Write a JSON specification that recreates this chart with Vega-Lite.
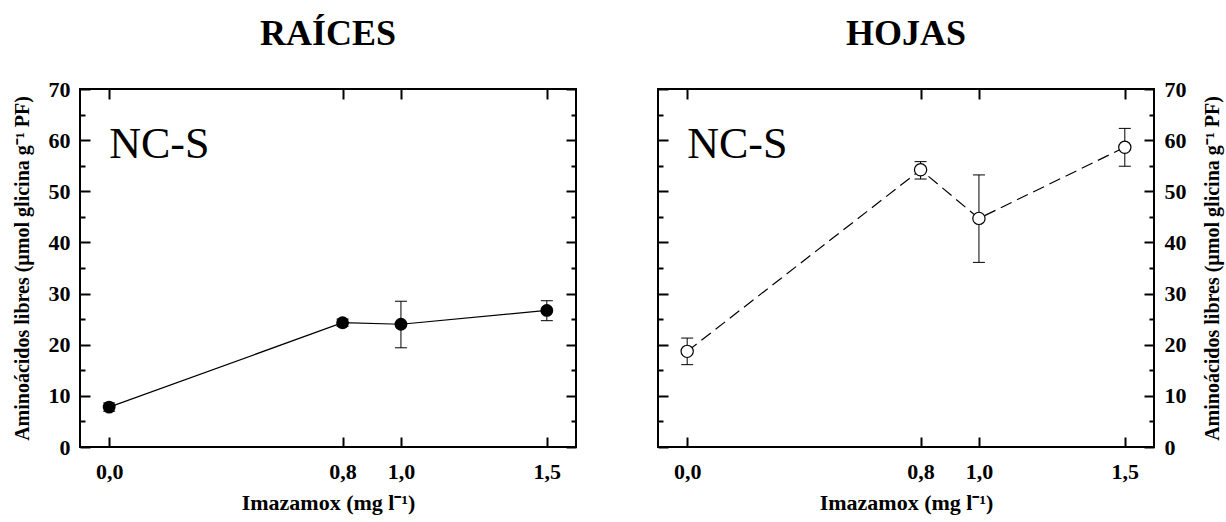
{
  "$schema": "https://vega.github.io/schema/vega-lite/v6.json",
  "background": "white",
  "padding": {"left": 11, "right": 3, "top": 15, "bottom": 5},
  "config": {
    "font": "Liberation Serif",
    "view": {"stroke": "black", "strokeWidth": 2},
    "axis": {
      "domain": false, "grid": false,
      "labelFont": "Liberation Serif", "labelFontSize": 22, "labelFontWeight": "bold", "labelColor": "black",
      "titleFont": "Liberation Serif", "titleFontSize": 20, "titleFontWeight": "bold", "titleColor": "black",
      "tickColor": "black", "tickWidth": 2
    },
    "title": {"font": "Liberation Serif", "fontSize": 36, "fontWeight": "bold", "color": "black", "frame": "group", "anchor": "middle", "offset": 25},
    "concat": {"spacing": 78}
  },
  "datasets": {
    "d": [
      {"panel": "RAÍCES", "dose": 0.0, "mean": 7.8, "lo": 7.0, "hi": 8.6},
      {"panel": "RAÍCES", "dose": 0.8, "mean": 24.3, "lo": 23.6, "hi": 25.0},
      {"panel": "RAÍCES", "dose": 1.0, "mean": 24.0, "lo": 19.4, "hi": 28.5},
      {"panel": "RAÍCES", "dose": 1.5, "mean": 26.7, "lo": 24.7, "hi": 28.6},
      {"panel": "HOJAS", "dose": 0.0, "mean": 18.7, "lo": 16.1, "hi": 21.3},
      {"panel": "HOJAS", "dose": 0.8, "mean": 54.2, "lo": 52.4, "hi": 55.8},
      {"panel": "HOJAS", "dose": 1.0, "mean": 44.7, "lo": 36.1, "hi": 53.2},
      {"panel": "HOJAS", "dose": 1.5, "mean": 58.6, "lo": 54.9, "hi": 62.3}
    ]
  },
  "hconcat": [
    {
      "width": 496, "height": 358,
      "title": "RAÍCES",
      "data": {"name": "d"},
      "transform": [{"filter": "datum.panel === 'RAÍCES'"}],
      "resolve": {"axis": {"x": "independent", "y": "independent"}},
      "layer": [
        {
          "mark": {"type": "rule", "color": "black", "strokeWidth": 1},
          "encoding": {
            "x": {"field": "dose", "type": "quantitative", "scale": {"domain": [-0.1, 1.6], "nice": false, "zero": false},
                  "axis": {"orient": "bottom", "values": [0, 0.8, 1, 1.5], "tickSize": -10, "labelPadding": 24,
                           "labelExpr": "replace(format(datum.value, '.1f'), '.', ',')", "title": "Imazamox (mg l⁻¹)", "titleFontSize": 22, "titlePadding": 10}},
            "y": {"field": "lo", "type": "quantitative", "scale": {"domain": [0, 70], "nice": false},
                  "axis": {"orient": "left", "values": [0, 10, 20, 30, 40, 50, 60, 70], "tickSize": -10, "labelPadding": 20,
                           "title": "Aminoácidos libres (µmol glicina g⁻¹ PF)", "titlePadding": 16}},
            "y2": {"field": "hi"}
          }
        },
        {
          "mark": {"type": "tick", "orient": "horizontal", "size": 12, "thickness": 1, "color": "black", "opacity": 1},
          "encoding": {
            "x": {"field": "dose", "type": "quantitative", "scale": {"domain": [-0.1, 1.6], "nice": false, "zero": false},
                  "axis": {"orient": "top", "values": [0, 0.8, 1, 1.5], "tickSize": -10, "labels": false, "title": null}},
            "y": {"field": "lo", "type": "quantitative", "scale": {"domain": [0, 70], "nice": false},
                  "axis": {"orient": "left", "values": [5, 15, 25, 35, 45, 55, 65], "tickSize": -5, "labels": false, "title": null}}
          }
        },
        {
          "mark": {"type": "tick", "orient": "horizontal", "size": 12, "thickness": 1, "color": "black", "opacity": 1},
          "encoding": {
            "x": {"field": "dose", "type": "quantitative", "scale": {"domain": [-0.1, 1.6], "nice": false, "zero": false}, "axis": null},
            "y": {"field": "hi", "type": "quantitative", "scale": {"domain": [0, 70], "nice": false},
                  "axis": {"orient": "right", "values": [0, 10, 20, 30, 40, 50, 60, 70], "tickSize": -10, "labels": false, "title": null}}
          }
        },
        {
          "mark": {"type": "line", "color": "black", "strokeWidth": 1.2},
          "encoding": {
            "x": {"field": "dose", "type": "quantitative", "scale": {"domain": [-0.1, 1.6], "nice": false, "zero": false}, "axis": null},
            "y": {"field": "mean", "type": "quantitative", "scale": {"domain": [0, 70], "nice": false},
                  "axis": {"orient": "right", "values": [5, 15, 25, 35, 45, 55, 65], "tickSize": -5, "labels": false, "title": null}}
          }
        },
        {
          "mark": {"type": "circle", "size": 165, "color": "black", "opacity": 1},
          "encoding": {
            "x": {"field": "dose", "type": "quantitative", "scale": {"domain": [-0.1, 1.6], "nice": false, "zero": false}, "axis": null},
            "y": {"field": "mean", "type": "quantitative", "scale": {"domain": [0, 70], "nice": false}, "axis": null}
          }
        },
        {
          "data": {"values": [{"label": "NC-S", "panel": "RAÍCES"}]},
          "mark": {"type": "text", "font": "Liberation Serif", "fontSize": 44, "align": "left", "baseline": "alphabetic", "color": "black"},
          "encoding": {
            "text": {"field": "label"},
            "x": {"datum": 0, "type": "quantitative", "scale": {"domain": [-0.1, 1.6], "nice": false, "zero": false}, "axis": null},
            "y": {"datum": 56.5, "type": "quantitative", "scale": {"domain": [0, 70], "nice": false}, "axis": null}
          }
        }
      ]
    },
    {
      "width": 496, "height": 358,
      "title": "HOJAS",
      "data": {"name": "d"},
      "transform": [{"filter": "datum.panel === 'HOJAS'"}],
      "resolve": {"axis": {"x": "independent", "y": "independent"}},
      "layer": [
        {
          "mark": {"type": "rule", "color": "black", "strokeWidth": 1},
          "encoding": {
            "x": {"field": "dose", "type": "quantitative", "scale": {"domain": [-0.1, 1.6], "nice": false, "zero": false},
                  "axis": {"orient": "bottom", "values": [0, 0.8, 1, 1.5], "tickSize": -10, "labelPadding": 24,
                           "labelExpr": "replace(format(datum.value, '.1f'), '.', ',')", "title": "Imazamox (mg l⁻¹)", "titleFontSize": 22, "titlePadding": 10}},
            "y": {"field": "lo", "type": "quantitative", "scale": {"domain": [0, 70], "nice": false},
                  "axis": {"orient": "left", "values": [0, 10, 20, 30, 40, 50, 60, 70], "tickSize": -10, "labels": false, "title": null}},
            "y2": {"field": "hi"}
          }
        },
        {
          "mark": {"type": "tick", "orient": "horizontal", "size": 12, "thickness": 1, "color": "black", "opacity": 1},
          "encoding": {
            "x": {"field": "dose", "type": "quantitative", "scale": {"domain": [-0.1, 1.6], "nice": false, "zero": false},
                  "axis": {"orient": "top", "values": [0, 0.8, 1, 1.5], "tickSize": -10, "labels": false, "title": null}},
            "y": {"field": "lo", "type": "quantitative", "scale": {"domain": [0, 70], "nice": false},
                  "axis": {"orient": "left", "values": [5, 15, 25, 35, 45, 55, 65], "tickSize": -5, "labels": false, "title": null}}
          }
        },
        {
          "mark": {"type": "tick", "orient": "horizontal", "size": 12, "thickness": 1, "color": "black", "opacity": 1},
          "encoding": {
            "x": {"field": "dose", "type": "quantitative", "scale": {"domain": [-0.1, 1.6], "nice": false, "zero": false}, "axis": null},
            "y": {"field": "hi", "type": "quantitative", "scale": {"domain": [0, 70], "nice": false},
                  "axis": {"orient": "right", "values": [0, 10, 20, 30, 40, 50, 60, 70], "tickSize": -10, "labelPadding": 20,
                           "title": "Aminoácidos libres (µmol glicina g⁻¹ PF)", "titleAngle": -90, "titleBaseline": "top", "titlePadding": 16}}
          }
        },
        {
          "mark": {"type": "line", "color": "black", "strokeWidth": 1.2, "strokeDash": [12, 6]},
          "encoding": {
            "x": {"field": "dose", "type": "quantitative", "scale": {"domain": [-0.1, 1.6], "nice": false, "zero": false}, "axis": null},
            "y": {"field": "mean", "type": "quantitative", "scale": {"domain": [0, 70], "nice": false},
                  "axis": {"orient": "right", "values": [5, 15, 25, 35, 45, 55, 65], "tickSize": -5, "labels": false, "title": null}}
          }
        },
        {
          "mark": {"type": "point", "shape": "circle", "filled": false, "fill": "white", "fillOpacity": 1, "stroke": "black", "strokeWidth": 1.2, "size": 150, "opacity": 1},
          "encoding": {
            "x": {"field": "dose", "type": "quantitative", "scale": {"domain": [-0.1, 1.6], "nice": false, "zero": false}, "axis": null},
            "y": {"field": "mean", "type": "quantitative", "scale": {"domain": [0, 70], "nice": false}, "axis": null}
          }
        },
        {
          "data": {"values": [{"label": "NC-S", "panel": "HOJAS"}]},
          "mark": {"type": "text", "font": "Liberation Serif", "fontSize": 44, "align": "left", "baseline": "alphabetic", "color": "black"},
          "encoding": {
            "text": {"field": "label"},
            "x": {"datum": 0, "type": "quantitative", "scale": {"domain": [-0.1, 1.6], "nice": false, "zero": false}, "axis": null},
            "y": {"datum": 56.5, "type": "quantitative", "scale": {"domain": [0, 70], "nice": false}, "axis": null}
          }
        }
      ]
    }
  ]
}
